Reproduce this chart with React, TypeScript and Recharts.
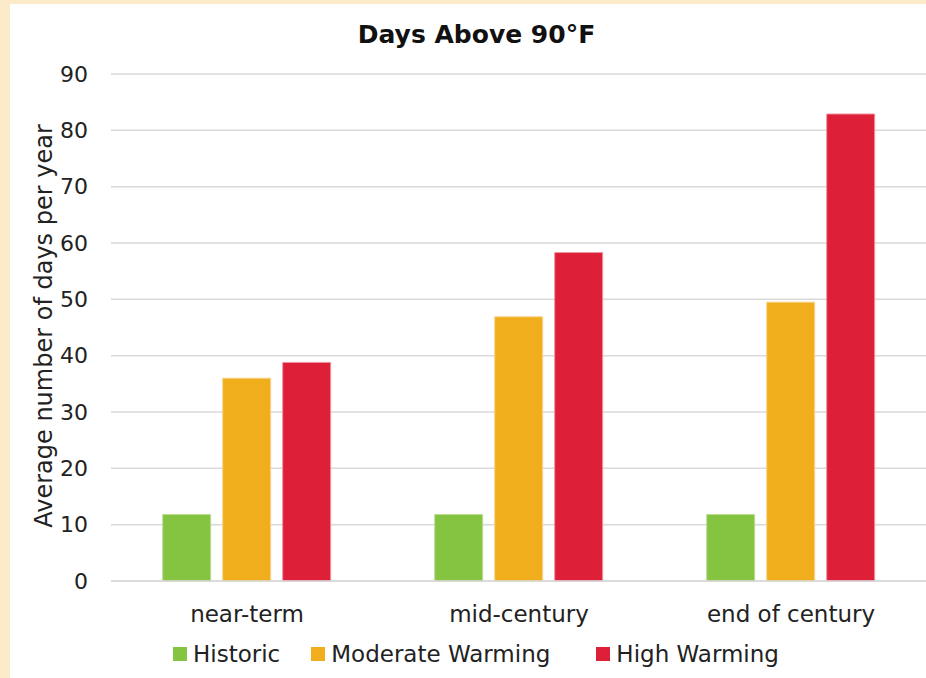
import { BarChart, Bar, XAxis, YAxis, CartesianGrid } from 'recharts';

const categories = ['near-term', 'mid-century', 'end of century'];
const historic = [11.8, 11.8, 11.8];
const moderate = [36.0, 46.9, 49.5];
const high = [38.8, 58.3, 82.9];
const yTicks = [0, 10, 20, 30, 40, 50, 60, 70, 80, 90];

const series = [
  { key: 'historic', name: 'Historic', color: '#84C441', edge: '#B9DE95', gap: 31 },
  { key: 'moderate', name: 'Moderate Warming', color: '#F0AE1D', edge: '#F7D48A', gap: 46 },
  { key: 'high', name: 'High Warming', color: '#DE1F38', edge: '#EE95A0', gap: 0 },
];

const data = categories.map((c, i) => ({
  category: c,
  historic: historic[i],
  moderate: moderate[i],
  high: high[i],
}));

const font = '"DejaVu Sans", sans-serif';
const textColor = '#222';

export default function App() {
  return (
    <div style={{ position: 'absolute', left: 0, top: 0, width: 926, height: 678, background: '#FBEBC8', overflow: 'hidden', fontFamily: font }}>
      <div style={{ position: 'absolute', left: 10, top: 4, width: 916, height: 674, background: '#fff' }}>
        <div style={{ position: 'absolute', left: 0, top: 16, width: 933, textAlign: 'center', fontWeight: 'bold', fontSize: 25, color: '#111' }}>
          Days Above 90°F
        </div>
        <div style={{ position: 'absolute', left: 34, top: 322, width: 0, height: 0 }}>
          <div style={{ position: 'absolute', left: 0, top: 0, transform: 'translate(-50%, -50%) rotate(-90deg)', whiteSpace: 'nowrap', fontSize: 24, color: textColor }}>
            Average number of days per year
          </div>
        </div>
        <BarChart width={916} height={674} data={data} margin={{ top: 70, right: -1, bottom: 0, left: 0 }} barCategoryGap="19%" barGap={12}>
          <CartesianGrid vertical={false} stroke="#D9D9D9" strokeWidth={1.5} />
          <XAxis dataKey="category" height={97} axisLine={{ stroke: '#D9D9D9', strokeWidth: 1.5 }} tickLine={false} tickSize={0} tickMargin={25} tick={{ fontSize: 23, fill: textColor, fontFamily: font }} />
          <YAxis width={101} domain={[0, 90]} ticks={yTicks} axisLine={false} tickLine={false} tickSize={0} tickMargin={23} tick={{ fontSize: 22, fill: textColor, fontFamily: font }} />
          {series.map((s) => (
            <Bar key={s.key} dataKey={s.key} name={s.name} fill={s.color} stroke={s.edge} strokeWidth={1} isAnimationActive={false} />
          ))}
        </BarChart>
        <div style={{ position: 'absolute', left: 163, top: 637, display: 'flex', alignItems: 'center', fontSize: 23, color: textColor }}>
          {series.map((s) => (
            <div key={s.key} style={{ display: 'flex', alignItems: 'center', marginRight: s.gap }}>
              <span style={{ display: 'inline-block', width: 14, height: 14, background: s.color, marginRight: 6 }} />
              <span>{s.name}</span>
            </div>
          ))}
        </div>
      </div>
    </div>
  );
}
